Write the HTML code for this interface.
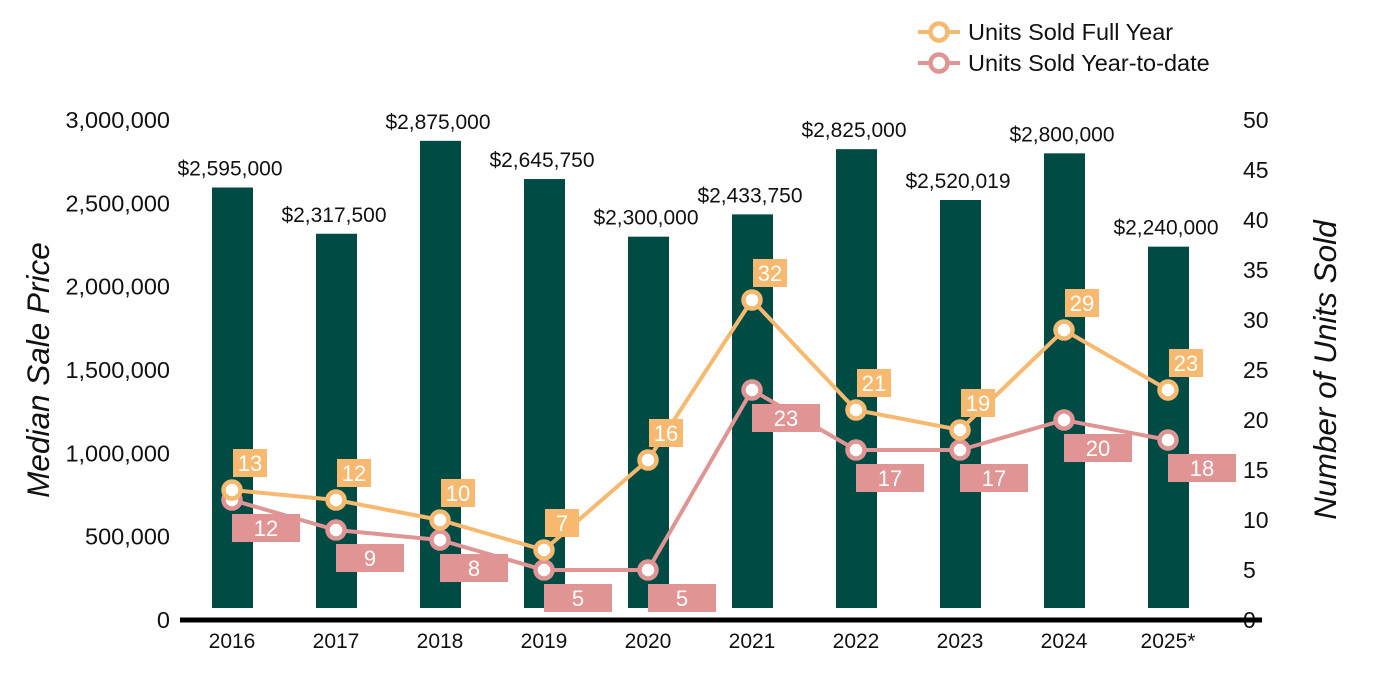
<!DOCTYPE html>
<html><head><meta charset="utf-8"><style>
body{margin:0;background:#fff;}
svg{display:block;font-family:"Liberation Sans",Arial,sans-serif;}
</style></head><body>
<svg id="chart" width="1400" height="700"></svg>
<script>
const years=["2016","2017","2018","2019","2020","2021","2022","2023","2024","2025*"];
const prices=[2595000,2317500,2875000,2645750,2300000,2433750,2825000,2520019,2800000,2240000];
const priceLabels=["$2,595,000","$2,317,500","$2,875,000","$2,645,750","$2,300,000","$2,433,750","$2,825,000","$2,520,019","$2,800,000","$2,240,000"];
const fullYear=[13,12,10,7,16,32,21,19,29,23];
const ytd=[12,9,8,5,5,23,17,17,20,18];
const leftTicks=[0,500000,1000000,1500000,2000000,2500000,3000000];
const rightTicks=[0,5,10,15,20,25,30,35,40,45,50];

const NS="http://www.w3.org/2000/svg";
const svg=document.getElementById('chart');
const BASE=620;
const yL=v=>BASE-v/3000000*500;
const yR=v=>BASE-v*10;
const xC=i=>232+i*104;
function mk(tag,attrs,parent){const e=document.createElementNS(NS,tag);for(const k in attrs)e.setAttribute(k,attrs[k]);(parent||svg).appendChild(e);return e;}
function txt(s,attrs){const e=mk('text',attrs);e.textContent=s;return e;}

leftTicks.forEach(v=>{const t=txt(v.toLocaleString('en-US'),{x:170,y:yL(v)+8,'text-anchor':'end','font-size':23.5,fill:'#111'});

});
rightTicks.forEach(v=>{const t=txt(String(v),{x:1243,y:yR(v)+8,'text-anchor':'start','font-size':23,fill:'#111'});

});

let t=txt('Median Sale Price',{x:0,y:0,'font-size':31.5,'font-style':'italic',fill:'#111','text-anchor':'middle',transform:'translate(49,370) rotate(-90)'});


t=txt('Number of Units Sold',{x:0,y:0,'font-size':31.5,'font-style':'italic',fill:'#111','text-anchor':'middle',transform:'translate(1336,370) rotate(-90)'});



prices.forEach((p,i)=>{
 const b=mk('rect',{x:xC(i)-20,y:yL(p),width:41,height:608-yL(p),fill:'#004b44'});
 
 
 const l=txt(priceLabels[i],{x:xC(i)-2,y:yL(p)-12,'text-anchor':'middle','font-size':21,fill:'#111'});
 
 
});
const ax=mk('line',{x1:180,x2:1262,y1:620,y2:620,stroke:'#000','stroke-width':5});


years.forEach((y,i)=>{const l=txt(y,{x:xC(i),y:648,'text-anchor':'middle','font-size':21,fill:'#111'});

});

function series(vals,color,name,dx,dy,w){
 const pl=mk('polyline',{points:vals.map((v,i)=>xC(i)+','+yR(v)).join(' '),fill:'none',stroke:color,'stroke-width':4});
 
 
 vals.forEach((v,i)=>{
  const c=mk('circle',{cx:xC(i),cy:yR(v),r:8.5,fill:'#fff',stroke:color,'stroke-width':4.5});
  
  
 });
 vals.forEach((v,i)=>{
  const cx=xC(i)+dx,cy=yR(v)+dy;
  const r=mk('rect',{x:cx-w/2,y:cy-14,width:w,height:28,fill:color});
  
  
  const l=txt(String(v),{x:cx,y:cy+8,'text-anchor':'middle','font-size':22,fill:'#fff'});
  
  
 });
}
series(ytd,'#e09494','ytd',34,28,68);
series(fullYear,'#f6b96f','full-year',18,-27,34);

[['Units Sold Full Year','#f6b96f',32],['Units Sold Year-to-date','#e09494',63]].forEach(([s,c,y],k)=>{
 const g=mk('g',{});
 
 
 mk('line',{x1:918,x2:960,y1:y,y2:y,stroke:c,'stroke-width':4},g);
 mk('circle',{cx:939,cy:y,r:8.5,fill:'#fff',stroke:c,'stroke-width':4.5},g);
 const l=document.createElementNS(NS,'text');l.setAttribute('x',968);l.setAttribute('y',y+8);l.setAttribute('font-size',23.5);l.setAttribute('fill','#111');l.textContent=s;g.appendChild(l);
});
</script>
</body></html>
